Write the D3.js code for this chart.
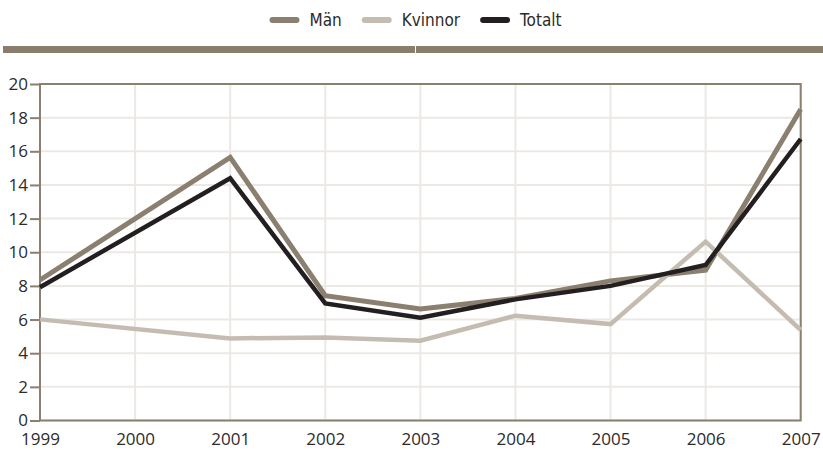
<!DOCTYPE html>
<html>
<head>
<meta charset="utf-8">
<script src="https://cdn.jsdelivr.net/npm/d3@7"></script>
<style>
  body { margin: 0; background: #fff; }
  #chart text { font-family: "Open Sans", "Noto Sans", sans-serif; }
  #chart .legend text { font-family: "DejaVu Sans Condensed", "DejaVu Sans", sans-serif; font-stretch: condensed; }
</style>
</head>
<body>
<div id="chart"></div>
<script>
var years = [1999, 2000, 2001, 2002, 2003, 2004, 2005, 2006, 2007];
var man = [8.35, null, 15.64, 7.42, 6.63, 7.25, 8.3, 8.94, 18.5];
var kvinnor = [6.01, null, 4.88, 4.94, 4.74, 6.23, 5.73, 10.63, 5.38];
var totalt = [7.92, null, 14.4, 6.96, 6.11, 7.2, 8.0, 9.24, 16.73];
var yTicks = [0, 2, 4, 6, 8, 10, 12, 14, 16, 18, 20];

var series = [
  {name: "Män", values: man, color: "#8b7f6f", width: 5},
  {name: "Kvinnor", values: kvinnor, color: "#c4bcb1", width: 4.5},
  {name: "Totalt", values: totalt, color: "#231f20", width: 4.5}
];

var width = 823, height = 450;
var margin = {top: 84, right: 22.3, bottom: 29.5, left: 40};
var chartWidth = width - margin.left - margin.right;
var chartHeight = height - margin.top - margin.bottom;

var svg = d3.select("#chart").append("svg")
    .attr("width", width)
    .attr("height", height);

// brown band under the legend (two halves with a hairline gap)
svg.append("rect")
    .attr("x", 3).attr("y", 46)
    .attr("width", 412).attr("height", 7)
    .attr("fill", "#8a7d6b");
svg.append("rect")
    .attr("x", 416).attr("y", 46)
    .attr("width", width - 416).attr("height", 7)
    .attr("fill", "#8a7d6b");

var g = svg.append("g")
    .attr("transform", `translate(${margin.left}, ${margin.top})`);

var xScale = d3.scaleLinear()
    .domain([1999, 2007])
    .range([0, chartWidth]);

var yScale = d3.scaleLinear()
    .domain([0, 20])
    .range([chartHeight, 0]);

// grid
g.append("g").selectAll("line")
    .data(years)
    .enter().append("line")
    .attr("x1", d => xScale(d)).attr("x2", d => xScale(d))
    .attr("y1", 0).attr("y2", chartHeight)
    .attr("stroke", "#ece9e4").attr("stroke-width", 2);

g.append("g").selectAll("line")
    .data(yTicks)
    .enter().append("line")
    .attr("x1", 0).attr("x2", chartWidth)
    .attr("y1", d => yScale(d)).attr("y2", d => yScale(d))
    .attr("stroke", "#ece9e4").attr("stroke-width", 2);

// frame
g.append("rect")
    .attr("width", chartWidth).attr("height", chartHeight)
    .attr("fill", "none")
    .attr("stroke", "#8b7f6f").attr("stroke-width", 2);

var yAxis = d3.axisLeft(yScale)
    .tickValues(yTicks)
    .tickSize(10)
    .tickPadding(2);

g.append("g")
    .attr("class", "y axis")
    .call(yAxis)
    .call(a => a.select(".domain").remove())
    .call(a => a.selectAll("line").attr("stroke", "#8b7f6f").attr("stroke-width", 2))
    .selectAll("text")
    .style("font-size", "17px")
    .attr("fill", "#2b2b2b");

var xAxis = d3.axisBottom(xScale)
    .tickValues(years)
    .tickFormat(d3.format("d"))
    .tickSize(0)
    .tickPadding(12);

g.append("g")
    .attr("class", "x axis")
    .attr("transform", `translate(0,${chartHeight})`)
    .call(xAxis)
    .call(a => a.select(".domain").remove())
    .selectAll("text")
    .style("font-size", "17px")
    .attr("fill", "#2b2b2b");

var line = d3.line()
    .x(d => xScale(d[0]))
    .y(d => yScale(d[1]));

series.forEach(function(s) {
  var pts = years.map((y, i) => [y, s.values[i]]).filter(d => d[1] != null);
  g.append("path")
    .datum(pts)
    .attr("d", line)
    .attr("fill", "none")
    .attr("stroke", s.color)
    .attr("stroke-width", s.width)
    .attr("stroke-linejoin", "miter");
});

// legend, centred
var legend = svg.append("g").attr("class", "legend").attr("transform", "translate(0, 20)");
var cursor = 0;
series.forEach(function(s, i) {
  var lg = legend.append("g").attr("transform", `translate(${cursor}, 0)`);
  lg.append("line")
    .attr("x1", 3).attr("x2", 27)
    .attr("stroke", s.color).attr("stroke-width", 6)
    .attr("stroke-linecap", "round");
  var t = lg.append("text")
    .attr("x", 40).attr("dy", "0.35em")
    .style("font-size", "17px")
    .attr("fill", "#2b2b2b")
    .text(s.name);
  cursor += 40 + t.node().getComputedTextLength() + 20;
});
var legendW = cursor - 20;
legend.attr("transform", `translate(${415.5 - legendW / 2}, 20)`);
</script>
</body>
</html>
